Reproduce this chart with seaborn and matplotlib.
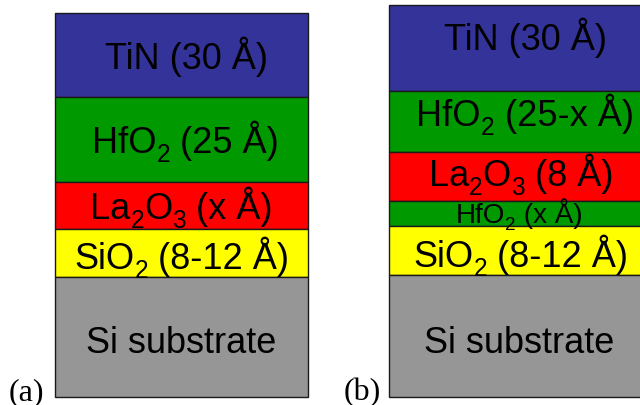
import re

import matplotlib
matplotlib.use("Agg")
import matplotlib.pyplot as plt
import numpy as np
import seaborn as sns

# Layer stacks, listed top to bottom (thickness in picture units); "_2" marks a subscript
layers_a = ["TiN (30 Å)", "HfO_2 (25 Å)", "La_2O_3 (x Å)", "SiO_2 (8-12 Å)", "Si substrate"]
thick_a = [84.5, 85, 47, 48, 120]
colors_a = ["#333399", "#009900", "#ff0000", "#ffff00", "#969696"]

layers_b = ["TiN (30 Å)", "HfO_2 (25-x Å)", "La_2O_3 (8 Å)", "HfO_2 (x Å)",
            "SiO_2 (8-12 Å)", "Si substrate"]
thick_b = [86, 61, 49, 25, 49, 122]
colors_b = ["#333399", "#009900", "#ff0000", "#009900", "#ffff00", "#969696"]

panel_labels = ["(a)", "(b)"]

sns.set_style("white")
plt.rcParams["font.family"] = ["Liberation Sans", "DejaVu Sans"]

fig = plt.figure(figsize=(6.4, 4.06), dpi=100)
ax = fig.add_axes([0, 0, 1, 1])
ax.set_xlim(0, 640)
ax.set_ylim(406, 0)
ax.axis("off")
renderer = fig.canvas.get_renderer()

base = 398


def layer_text(cx, y, label, fs):
    # split into normal / subscript pieces and lay them out by hand
    parts = re.split(r"_(\d)", label)
    pieces = []
    for i, p in enumerate(parts):
        if p:
            pieces.append((p, i % 2 == 1))
    em = fs * 100 / 72
    arts = []
    for p, sub in pieces:
        t = ax.text(0, y + (0.24 * em if sub else 0), p, ha="left", va="baseline",
                    fontsize=fs * 0.68 if sub else fs, color="black")
        arts.append(t)
    widths = [t.get_window_extent(renderer).width for t in arts]
    x = cx - sum(widths) / 2
    for t, w in zip(arts, widths):
        t.set_x(x)
        x += w


def draw_stack(names, thick, colors, left, width, text_dx, text_dy, sizes):
    tops = base - np.cumsum(thick[::-1])[::-1]
    ax.bar(left, thick, width=width, bottom=tops, align="edge",
           color=colors, edgecolor="#1a1a1a", linewidth=1.0)
    cx = left + width / 2
    for name, top, h, dx, dy, fs in zip(names, tops, thick, text_dx, text_dy, sizes):
        em = fs * 100 / 72
        layer_text(cx + dx, top + h / 2 + 0.36 * em + dy, name, fs)


draw_stack(layers_a, thick_a, colors_a, 55, 253,
           [5, 4, 0, 0, 0], [0, 0, 0, 2, 2], [26, 26, 26, 26, 26])
draw_stack(layers_b, thick_b, colors_b, 389, 264,
           [4, 4, 0, -2, 0, -2], [-12, -9, -4, -1, 3, 3], [26, 26, 26, 20, 26, 26])

for lab, x in zip(panel_labels, [26, 362]):
    ax.text(x, 400, lab, ha="center", va="baseline", fontsize=23,
            family="Liberation Serif", color="black")

fig.savefig("out.png", dpi=100)
